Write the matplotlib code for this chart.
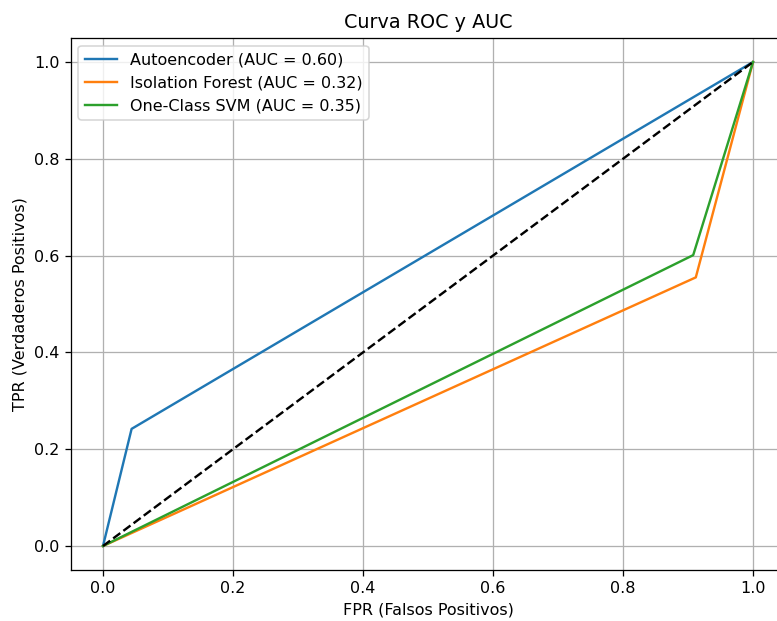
import matplotlib
matplotlib.use("Agg")
import matplotlib.pyplot as plt

# puntos de la curva ROC
fpr_ae = [0.0, 0.044, 1.0]
tpr_ae = [0.0, 0.242, 1.0]
fpr_if = [0.0, 0.912, 1.0]
tpr_if = [0.0, 0.555, 1.0]
fpr_svm = [0.0, 0.908, 1.0]
tpr_svm = [0.0, 0.601, 1.0]
auc_ae = 0.60
auc_if = 0.32
auc_svm = 0.35

dpi = 115
fig = plt.figure(figsize=(777 / dpi, 621 / dpi), dpi=dpi)
ax = fig.add_axes([70.5 / 777, 50.8 / 621, 715 / 777, 532.4 / 621])

ax.plot(fpr_ae, tpr_ae, label=f"Autoencoder (AUC = {auc_ae:.2f})")
ax.plot(fpr_if, tpr_if, label=f"Isolation Forest (AUC = {auc_if:.2f})")
ax.plot(fpr_svm, tpr_svm, label=f"One-Class SVM (AUC = {auc_svm:.2f})")
ax.plot([0, 1], [0, 1], "k--")

ax.set_xlabel("FPR (Falsos Positivos)")
ax.set_ylabel("TPR (Verdaderos Positivos)")
ax.set_title("Curva ROC y AUC")
ax.legend(loc="upper left")
ax.grid(True)

fig.savefig("out.png", dpi=dpi)
